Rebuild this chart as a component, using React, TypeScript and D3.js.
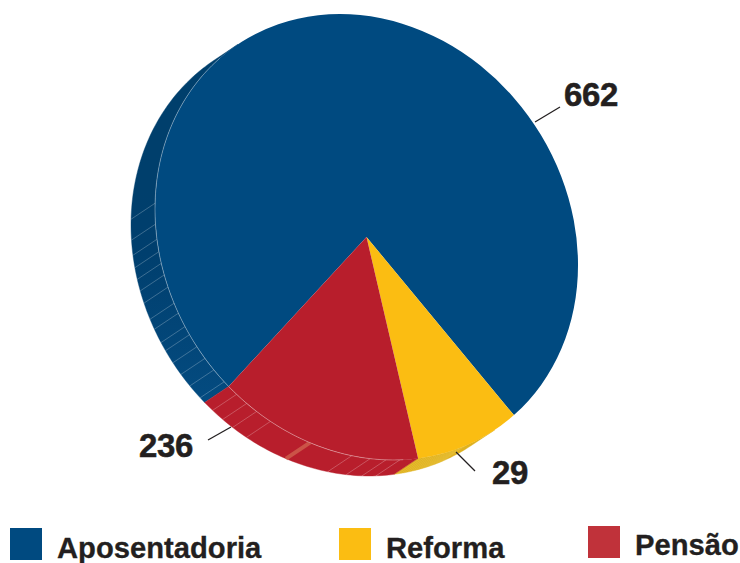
import React from "react";
import * as d3 from "d3";

const categories = ["Aposentadoria", "Reforma", "Pensão"];
const labels = ["662", "29", "236"];
// Drawn slice sizes (degrees); the picture's slices are not proportional to its labels.
const drawnShares = [275.1, 30.1, 54.8];
const topColors = ["#004a80", "#fbbd12", "#b81e2c"];
const wallColors = ["url(#blueWall)", "#dfb11f", "#b81e2c"];
const swatchColors = ["#004a80", "#fbbd12", "#c0323a"];
const blueHatch = [271.5, 266.1, 262.2, 259, 256, 253, 249.8, 245.5, 242.8, 239.1, 236.8, 233.3, 229.8, 226.2, 222.3];
const redHatch = [217.9, 214.5, 211.3, 207, 184, 179, 174.7, 170.9];
const paleBand = [195.5];
const yellowHatch = [165, 164, 163, 162, 161, 160, 159, 158, 157, 156, 155, 154, 153, 152];

const cx = 366.5, cy = 237;
// tilted ellipse: x = cx + mxx sin a ; y = cy + myx sin a - myy cos a
const mxx = 211.5, myx = 28, myy = 221.2;
const dx = -24, dy = 16;
const wallStart = 142.6, wallEnd = 322.6, startAngle = -139.3;

const rad = (d: number) => (d * Math.PI) / 180;
const deg = (r: number) => (r * 180) / Math.PI;
const pt = (a: number, ox = 0, oy = 0): [number, number] => [
  cx + ox + mxx * Math.sin(rad(a)),
  cy + oy + myx * Math.sin(rad(a)) - myy * Math.cos(rad(a)),
];

const pie = d3.pie<number>().sort(null).startAngle(rad(startAngle)).endAngle(rad(startAngle + 360));
const arcs = pie(drawnShares);
const unitArc = d3.arc<d3.PieArcDatum<number>>().innerRadius(0).outerRadius(1);
const line = d3.line();

function wallPath(a0: number, a1: number) {
  const steps = Math.max(2, Math.ceil(Math.abs(a1 - a0)));
  const as = d3.range(steps + 1).map((i) => a0 + ((a1 - a0) * i) / steps);
  return line([...as.map((a) => pt(a)), ...as.slice().reverse().map((a) => pt(a, dx, dy))]) + "Z";
}
const hatch = (a: number) => line([pt(a), pt(a, dx, dy)]) as string;

const wallRanges = [
  [deg(arcs[0].startAngle) + 360, wallEnd],
  [wallStart, deg(arcs[1].endAngle)],
  [deg(arcs[2].startAngle), deg(arcs[2].endAngle)],
];

const rimPath = line(d3.range(170, 317, 1).map((a) => pt(a))) as string;

const leaders = [
  [[535, 122], [560, 107]],
  [[456, 452], [475, 471]],
  [[208, 440], [231, 427]],
];
const valuePos = [[564, 106], [492, 484], [139, 457]];
const legendSwatch = [[10, 528], [339, 528], [588, 526]];
const legendText = [[57, 558], [386, 558], [635, 555]];
const ink = "#231f20";

export default function App() {
  return (
    <svg width={740} height={563} style={{ position: "absolute", left: 0, top: 0, fontFamily: "'Liberation Sans', Arial, sans-serif" }}>
      <defs>
        <linearGradient id="blueWall" gradientUnits="userSpaceOnUse" x1="0" x2="0" y1="190" y2="400">
          <stop offset="0" stopColor="#003f6c" />
          <stop offset="0.3" stopColor="#003f6e" />
          <stop offset="1" stopColor="#044b80" />
        </linearGradient>
      </defs>
      {wallRanges.map(([a0, a1], i) => (
        <path key={i} d={wallPath(a0, a1)} fill={wallColors[i]} stroke={wallColors[i]} strokeWidth={0.4} />
      ))}
      {blueHatch.map((a) => <path key={a} d={hatch(a)} stroke="#fff" strokeOpacity={0.3} strokeWidth={0.8} />)}
      {redHatch.map((a) => <path key={a} d={hatch(a)} stroke="#fff" strokeOpacity={0.3} strokeWidth={0.8} />)}
      {yellowHatch.map((a) => <path key={a} d={hatch(a)} stroke="#f3d25a" strokeOpacity={0.5} strokeWidth={0.6} />)}
      {paleBand.map((a) => <path key={a} d={hatch(a)} stroke="#d0604f" strokeOpacity={0.8} strokeWidth={4} />)}
      <g transform={`matrix(${mxx},${myx},0,${myy},${cx},${cy})`}>
        {arcs.map((d, i) => <path key={i} d={unitArc(d) as string} fill={topColors[i]} />)}
      </g>
      <path d={rimPath} fill="none" stroke="#fff" strokeOpacity={0.42} strokeWidth={0.8} />
      {leaders.map((l, i) => <path key={i} d={line(l as [number, number][]) as string} stroke={ink} strokeWidth={1.3} fill="none" />)}
      {labels.map((t, i) => (
        <text key={t} x={valuePos[i][0]} y={valuePos[i][1]} fontSize={33} fontWeight={700} letterSpacing={-0.4} stroke={ink} strokeWidth={0.5} fill={ink}>{t}</text>
      ))}
      {categories.map((c, i) => (
        <g key={c}>
          <rect x={legendSwatch[i][0]} y={legendSwatch[i][1]} width={32} height={32} fill={swatchColors[i]} />
          <text x={legendText[i][0]} y={legendText[i][1]} fontSize={29.2} fontWeight={700} stroke={ink} strokeWidth={0.3} fill={ink}>{c}</text>
        </g>
      ))}
    </svg>
  );
}
